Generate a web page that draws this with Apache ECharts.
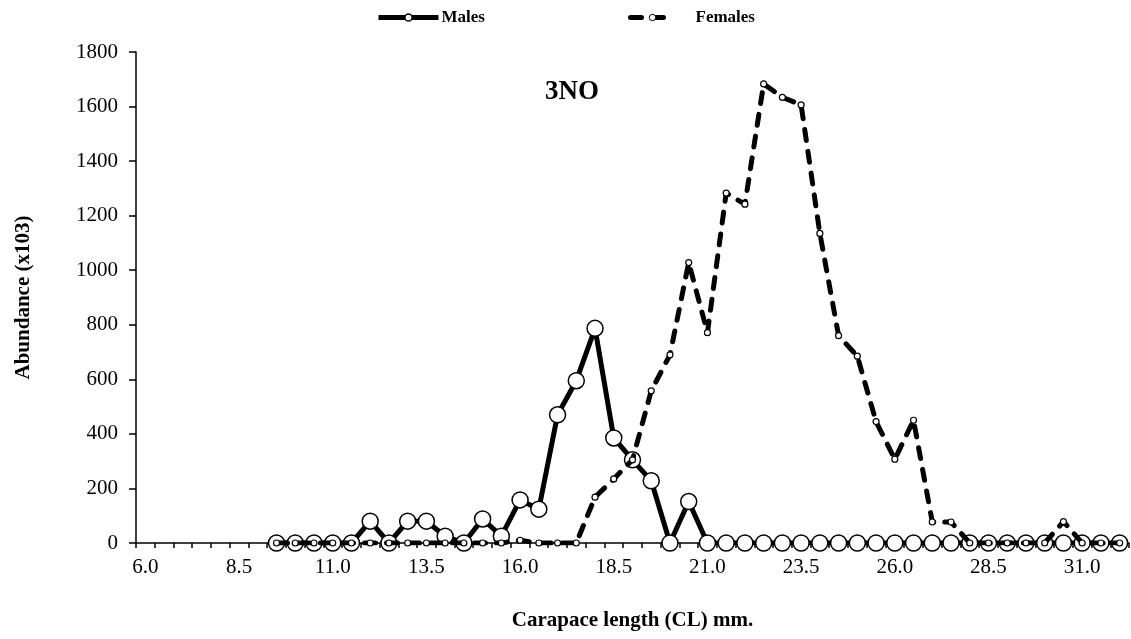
<!DOCTYPE html>
<html>
<head>
<meta charset="utf-8">
<script src="https://cdn.jsdelivr.net/npm/echarts@6/dist/echarts.min.js"></script>
<style>
  html, body { margin: 0; padding: 0; background: #fff; }
  #chart { width: 1131px; height: 639px; }
</style>
</head>
<body>
<div id="chart"></div>
<script>
// carapace length classes (mm)
const lengths = ['6.0', '6.5', '7.0', '7.5', '8.0', '8.5', '9.0', '9.5', '10.0', '10.5',
  '11.0', '11.5', '12.0', '12.5', '13.0', '13.5', '14.0', '14.5', '15.0', '15.5',
  '16.0', '16.5', '17.0', '17.5', '18.0', '18.5', '19.0', '19.5', '20.0', '20.5',
  '21.0', '21.5', '22.0', '22.5', '23.0', '23.5', '24.0', '24.5', '25.0', '25.5',
  '26.0', '26.5', '27.0', '27.5', '28.0', '28.5', '29.0', '29.5', '30.0', '30.5',
  '31.0', '31.5', '32.0']

// abundance (x103), no sampling below 9.5 mm
const males = [null, null, null, null, null, null, null,
  0, 0, 0, 0, 0, 80, 0, 80, 80, 25, 0, 88, 25,
  158, 124, 470, 595, 787, 385, 305, 228, 0, 152,
  0, 0, 0, 0, 0, 0, 0, 0, 0, 0,
  0, 0, 0, 0, 0, 0, 0, 0, 0, 0,
  0, 0, 0]
const females = [null, null, null, null, null, null, null,
  0, 0, 0, 0, 0, 0, 0, 0, 0, 0, 0, 0, 0,
  10, 0, 0, 0, 168, 235, 305, 558, 690, 1028,
  771, 1283, 1242, 1683, 1634, 1606, 1135, 760, 685, 445,
  307, 450, 77, 77, 0, 0, 0, 0, 0, 78,
  0, 0, 0]

const yMax = 1800
const yStep = 200
const font = 'Liberation Serif'
const legendText = { fontFamily: font, fontSize: 17, fontWeight: 'bold', color: '#000' }

const chart = echarts.init(document.getElementById('chart'))
const option = {
  animation: false,
  title: {
    text: '3NO',
    left: 545,
    top: 79,
    padding: 0,
    textStyle: { fontFamily: font, fontSize: 27, fontWeight: 'bold', color: '#000' },
  },
  legend: [
    {
      data: ['Males'],
      left: 376,
      top: 9,
      padding: 0,
      itemWidth: 60,
      itemHeight: 9,
      lineStyle: { width: 5 },
      itemStyle: { borderWidth: 1.5 },
      textStyle: Object.assign({ padding: [0, 0, 0, -2] }, legendText),
    },
    {
      data: ['Females'],
      left: 628,
      top: 9,
      padding: 0,
      itemWidth: 44,
      itemHeight: 8,
      lineStyle: { width: 5 },
      itemStyle: { borderWidth: 1 },
      textStyle: Object.assign({ padding: [0, 0, 0, 16] }, legendText),
    },
  ],
  grid: {
    left: 136,
    right: 2,
    top: 52,
    bottom: 96,
  },
  xAxis: {
    type: 'category',
    data: lengths,
    boundaryGap: true,
    name: 'Carapace length (CL) mm.',
    nameLocation: 'middle',
    nameGap: 67,
    nameTextStyle: { fontFamily: font, fontSize: 21, fontWeight: 'bold', color: '#000' },
    axisLine: { lineStyle: { color: '#000', width: 1.5 } },
    axisTick: { show: true, alignWithLabel: false, interval: 0, length: 5, lineStyle: { color: '#000', width: 1.5 } },
    axisLabel: { interval: 4, margin: 14, fontFamily: font, fontSize: 21, color: '#000' },
    splitLine: { show: false },
  },
  yAxis: {
    type: 'value',
    min: 0,
    max: yMax,
    interval: yStep,
    name: 'Abundance (x103)',
    nameLocation: 'middle',
    nameGap: 102,
    nameTextStyle: { fontFamily: font, fontSize: 21, fontWeight: 'bold', color: '#000' },
    axisLine: { show: true, lineStyle: { color: '#000', width: 1.5 } },
    axisTick: { show: true, length: 7, lineStyle: { color: '#000', width: 1.5 } },
    axisLabel: { margin: 18, fontFamily: font, fontSize: 21, color: '#000', formatter: (v) => String(v) },
    splitLine: { show: false },
  },
  series: [
    {
      name: 'Males',
      type: 'line',
      data: males,
      symbol: 'circle',
      symbolSize: 16,
      showAllSymbol: true,
      lineStyle: { color: '#000', width: 5 },
      itemStyle: { color: '#fff', borderColor: '#000', borderWidth: 1.5 },
      z: 2,
    },
    {
      name: 'Females',
      type: 'line',
      data: females,
      symbol: 'circle',
      symbolSize: 6,
      showAllSymbol: true,
      lineStyle: { color: '#000', width: 5, type: [11, 11], cap: 'round' },
      itemStyle: { color: '#fff', borderColor: '#000', borderWidth: 1.2 },
      z: 3,
    },
  ],
}
chart.setOption(option)
</script>
</body>
</html>
